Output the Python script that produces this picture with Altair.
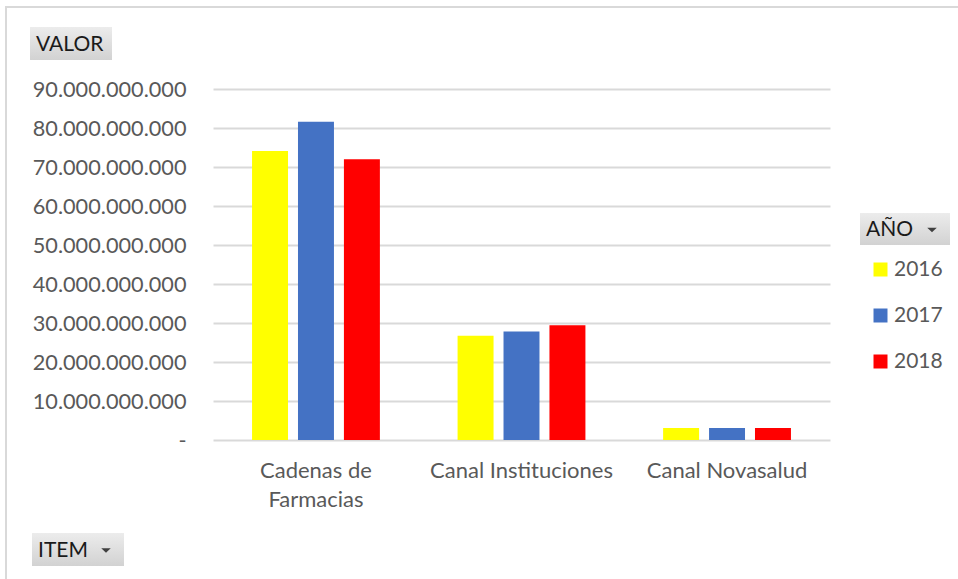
import altair as alt
import pandas as pd

items = ["Cadenas de Farmacias", "Canal Instituciones", "Canal Novasalud"]
years = ["2016", "2017", "2018"]
v2016 = [74.1e9, 26.7e9, 3.1e9]
v2017 = [81.6e9, 27.8e9, 3.1e9]
v2018 = [72.0e9, 29.4e9, 3.1e9]
colors = ["#FFFF00", "#4472C4", "#FF0000"]

rows = []
for i, it in enumerate(items):
    for y, vals in zip(years, [v2016, v2017, v2018]):
        rows.append({"ITEM": it, "AÑO": y, "VALOR": vals[i]})
df = pd.DataFrame(rows)

FONT = "Lato"
W, H = 617, 351
PL, PT = 213, 89

bars = alt.Chart(df).mark_bar().encode(
    x=alt.X("ITEM:N", sort=items, title=None,
            scale=alt.Scale(paddingInner=0.378, paddingOuter=0.19),
            axis=alt.Axis(labelAngle=0, ticks=False, domain=False, grid=False, labelPadding=20,
                          labelFontSize=22, labelColor="#595959", labelFont=FONT,
                          labelLineHeight=29, labelLimit=300,
                          labelExpr="datum.label == 'Cadenas de Farmacias' ? ['Cadenas de', 'Farmacias'] : datum.label")),
    xOffset=alt.XOffset("AÑO:N", sort=years, scale=alt.Scale(paddingInner=0.217)),
    y=alt.Y("VALOR:Q", title=None,
            scale=alt.Scale(domain=[0, 90e9], nice=False),
            axis=alt.Axis(values=[i * 1e10 for i in range(10)], ticks=False, domain=False,
                          labelPadding=27, labelFontSize=21.7, labelColor="#595959", labelFont=FONT,
                          gridColor="#d9d9d9", gridWidth=2,
                          labelExpr="datum.value == 0 ? '-' : replace(format(datum.value, ','), regexp(',', 'g'), '.')")),
    color=alt.Color("AÑO:N", sort=years, scale=alt.Scale(domain=years, range=colors),
                    legend=alt.Legend(title=None, orient="none", legendX=657, legendY=170,
                                      symbolType="square", symbolSize=196, symbolStrokeWidth=0,
                                      labelFontSize=21, labelColor="#595959", labelFont=FONT,
                                      rowPadding=24, labelOffset=3)),
)

grad = alt.Gradient(gradient="linear", x1=0, x2=0, y1=0, y2=1,
                    stops=[alt.GradientStop(color="#ececec", offset=0),
                           alt.GradientStop(color="#d2d2d2", offset=1)])

def button(x0, y0, x1, y1, label, arrow=None):
    d = pd.DataFrame({"t": [label]})
    r = alt.Chart(d).mark_rect(color=grad).encode(
        x=alt.value(x0 - PL), x2=alt.value(x1 - PL), y=alt.value(y0 - PT), y2=alt.value(y1 - PT))
    t = alt.Chart(d).mark_text(align="left", baseline="middle", font=FONT, fontSize=21,
                               color="#1a1a1a").encode(
        text="t:N", x=alt.value(x0 - PL + 6), y=alt.value((y0 + y1) / 2 - PT + 1))
    layers = [r, t]
    if arrow is not None:
        a = alt.Chart(d).mark_point(shape="M-1,-0.5L1,-0.5L0,0.5Z", filled=True, size=90,
                                    color="#404040", opacity=1).encode(
            x=alt.value(arrow - PL), y=alt.value((y0 + y1) / 2 - PT + 1))
        layers.append(a)
    return layers

border_d = pd.DataFrame({"a": [0]})
top_border = alt.Chart(border_d).mark_rule(color="#d9d9d9", strokeWidth=2).encode(
    x=alt.value(5 - PL), x2=alt.value(958 - PL), y=alt.value(7 - PT))
left_border = alt.Chart(border_d).mark_rule(color="#d9d9d9", strokeWidth=2).encode(
    x=alt.value(6 - PL), y=alt.value(7 - PT), y2=alt.value(579 - PT))

layers = [top_border, left_border, bars]
layers += button(30, 27, 112, 60, "VALOR")
layers += button(860, 213, 950, 245, "AÑO", arrow=932)
layers += button(32, 533, 124, 566, "ITEM", arrow=106)

chart = alt.layer(*layers).properties(
    width=W, height=H,
    background="white",
    autosize=alt.AutoSizeParams(type="none"),
    padding={"left": PL, "top": PT, "right": 958 - PL - W, "bottom": 579 - PT - H},
).configure_view(strokeWidth=0, stroke=None)

chart.save("out.html", embed_options={"renderer": "svg", "actions": False})
